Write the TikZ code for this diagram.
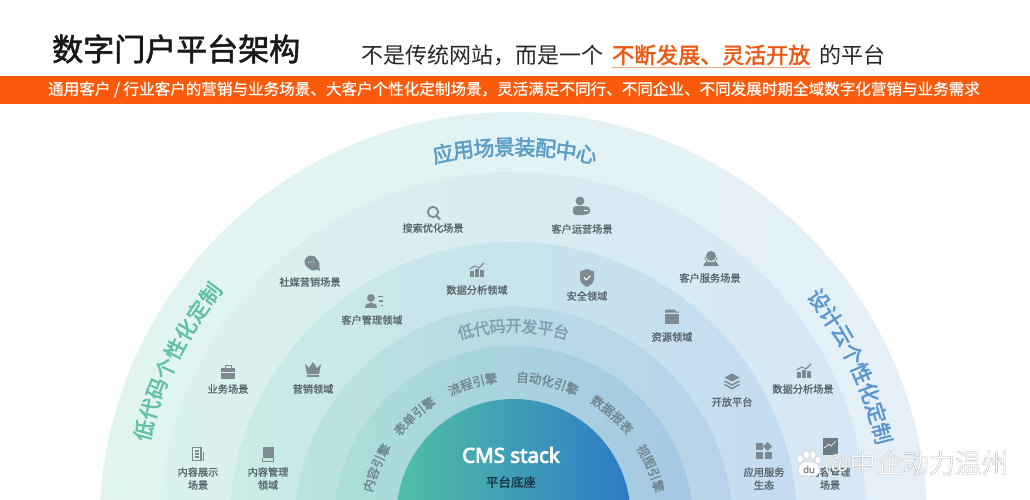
\documentclass[tikz,border=0pt]{standalone}
\usepackage{fontspec}
\usetikzlibrary{shadings}
\setmainfont{Noto Sans CJK SC}
\newfontfamily\latb{Noto Sans}
\definecolor{iconc}{HTML}{7E8A90}
\definecolor{labc}{HTML}{56636A}
\definecolor{orgbar}{HTML}{FA5A0C}
\definecolor{orgtxt}{HTML}{F0560F}
\definecolor{headblue}{HTML}{5A9EC6}
\definecolor{headgreen}{HTML}{5FC0A3}
\definecolor{headcloud}{HTML}{5C96CD}
\definecolor{platc}{HTML}{7FA0AE}
\definecolor{enginec}{HTML}{6F858E}
\newcommand\arctxt[6]{% radius, centre angle, step, style, n, chars
  \pgfmathsetmacro\arcstart{#2+#3*(#5-1)/2}
  \foreach \ch [count=\ci] in {#6}{
    \pgfmathsetmacro\ang{\arcstart-(\ci-1)*#3}
    \pgfmathsetmacro\px{513.5+#1*cos(\ang)}
    \pgfmathsetmacro\py{526-#1*sin(\ang)}
    \pgfmathsetmacro\rt{\ang-90}
    \node[#4,rotate=\rt] at (\px,\py) {\ch};
  }
}
\tikzset{
  heavy/.style={execute at begin node={\special{pdf:code 2 Tr #1 w}},execute at end node={\special{pdf:code 0 Tr 0 w}}},
  lab/.style={text=labc,font=\fontsize{10.2}{13}\selectfont,inner sep=0pt,align=center,heavy=0.12},
  ic/.style={fill=iconc,draw=none},
  icl/.style={draw=iconc,fill=none},
  engine/.style={text=enginec,font=\fontsize{12.5}{14}\selectfont,inner sep=0pt,heavy=0.15},
  plat/.style={text=platc,font=\fontsize{16}{18}\selectfont,inner sep=0pt,heavy=0.35},
  big/.style={font=\fontsize{21}{23}\selectfont,inner sep=0pt,heavy=0.5},
}
\begin{document}
\begin{tikzpicture}[x=1pt,y=-1pt]
\useasboundingbox (0,0) rectangle (1030,500);
\fill[white] (0,0) rectangle (1030,500);
\begin{scope}
\clip (0,0) rectangle (1030,500);
\shade[left color={rgb,255:red,224;green,245;blue,240},middle color={rgb,255:red,240;green,247;blue,250},right color={rgb,255:red,229;green,239;blue,248}] (513.5,526) circle (414);
\shade[left color={rgb,255:red,218;green,242;blue,238},middle color={rgb,255:red,224;green,240;blue,245},right color={rgb,255:red,215;green,231;blue,245}] (513.5,526) circle (354);
\shade[left color={rgb,255:red,202;green,235;blue,230},middle color={rgb,255:red,207;green,232;blue,240},right color={rgb,255:red,197;green,220;blue,240}] (513.5,526) circle (284);
\shade[left color={rgb,255:red,186;green,228;blue,222},middle color={rgb,255:red,191;green,225;blue,234},right color={rgb,255:red,183;green,210;blue,234}] (513.5,526) circle (219);
\shade[left color={rgb,255:red,172;green,222;blue,214},middle color={rgb,255:red,175;green,215;blue,229},right color={rgb,255:red,165;green,200;blue,229}] (513.5,526) circle (180);
\shade[left color={rgb,255:red,80;green,192;blue,165},right color={rgb,255:red,46;green,122;blue,198}] (513.5,516) circle (117);
\end{scope}
% header
\node[anchor=west,inner sep=0pt,font=\fontsize{31}{34}\selectfont,text=black!90,heavy=0.6] (title) at (52,49) {数字门户平台架构};
\node[anchor=west,inner sep=0pt,font=\fontsize{22}{24}\selectfont,text=black!85] (sub1) at (361,55) {不是传统网站，而是一个};
\node[anchor=west,inner sep=0pt,font=\fontsize{22}{24}\selectfont,text=orgtxt,heavy=0.4] (sub2) at (612,55) {不断发展、灵活开放};
\node[anchor=west,inner sep=0pt,font=\fontsize{22}{24}\selectfont,text=black!85] (sub3) at (819,55) {的平台};
\draw[line width=1.4pt,draw=orgtxt!55] (612,67.5) -- (811,67.5);
\fill[orgbar] (0,76) rectangle (1030,104);
\node[inner sep=0pt,text=white,font=\fontsize{15.57}{17}\selectfont,heavy=0.1] (bar) at (514,89.5) {通用客户 / 行业客户的营销与业务场景、大客户个性化定制场景，灵活满足不同行、不同企业、不同发展时期全域数字化营销与业务需求};
% arc headings
\arctxt{379}{89.8}{3.12}{big,text=headblue}{8}{应,用,场,景,装,配,中,心}
\arctxt{382}{154}{3.28}{big,text=headgreen}{8}{低,代,码,个,性,化,定,制}
\arctxt{380}{25.3}{3.2}{big,text=headcloud}{8}{设,计,云,个,性,化,定,制}
\arctxt{200}{90}{4.6}{plat}{7}{低,代,码,开,发,平,台}
\arctxt{150}{157}{4.9}{engine}{4}{内,容,引,擎}
\arctxt{149}{132}{4.9}{engine}{4}{表,单,引,擎}
\arctxt{149}{106}{4.9}{engine}{4}{流,程,引,擎}
\arctxt{149}{76.7}{4.9}{engine}{5}{自,动,化,引,擎}
\arctxt{150}{48.5}{4.9}{engine}{4}{数,据,报,表}
\arctxt{150}{22.7}{4.9}{engine}{4}{视,图,引,擎}
% centre
\node[inner sep=0pt,text=white,font=\latb\fontsize{20.5}{22}\selectfont,heavy=0.8] (cms) at (511,455) {CMS stack};
\node[inner sep=0pt,text={rgb,255:red,24;green,50;blue,70},font=\fontsize{12.5}{14}\selectfont,heavy=0.15] (base) at (511,482) {平台底座};
% labels
\node[lab] at (433,228) {搜索优化场景};
\node[lab] at (582,229) {客户运营场景};
\node[lab] at (310,282) {社媒营销场景};
\node[lab] at (372,320) {客户管理领域};
\node[lab] at (477,290) {数据分析领域};
\node[lab] at (587,296) {安全领域};
\node[lab] at (710,278) {客户服务场景};
\node[lab] at (672,337) {资源领域};
\node[lab] at (228,389) {业务场景};
\node[lab] at (313,389) {营销领域};
\node[lab] at (732,402) {开放平台};
\node[lab] at (803,389) {数据分析场景};
\node[lab] at (198,478.5) {内容展示\\场景};
\node[lab] at (268,478.5) {内容管理\\领域};
\node[lab] at (764,478.5) {应用服务\\生态};
\node[lab] at (830,478.5) {内容管理\\场景};
% icons
\begin{scope}[shift={(433,213)}]
 \draw[icl,line width=1.8pt] (0,-1) circle (5.2);
 \draw[icl,line width=2.2pt] (3.6,2.8) -- (7,6.5);
\end{scope}
\begin{scope}[shift={(581,207)}]
 \fill[ic] (-1,-6) circle (4.4);
 \fill[ic,rounded corners=3pt] (-8,-1) rectangle (5,8);
 \fill[iconc] (5,3.5) circle (4.3);
 \draw[white,line width=.7pt] (2.8,3.5) -- (7,3.5);
\end{scope}
\begin{scope}[shift={(312,263)}]
 \fill[ic] (1.5,1.5) circle (6);
 \fill[ic] (4,6) -- (8,8) -- (7,2) -- cycle;
 \fill[ic] (-1,-1) circle (6.5);
 \foreach \d in {-3.5,-1,1.5}\fill[white] (\d,-1) circle (.7);
\end{scope}
\begin{scope}[shift={(374,302)}]
 \fill[ic] (-3,-4) circle (3.9);
 \fill[ic] (-9,6) .. controls (-9,-1) and (3,-1) .. (3,6) -- cycle;
 \draw[iconc,line width=1.4pt] (3.5,-5.5) -- (8.5,-5.5);
 \draw[iconc,line width=1.4pt] (5,-1) -- (8.5,-1);
 \draw[iconc,line width=1.4pt] (6.5,3.5) -- (8.5,3.5);
\end{scope}
\begin{scope}[shift={(477,270)}]
 \fill[ic] (-7,1) rectangle (-3.5,6.5); \fill[ic] (-2,-1) rectangle (1.5,6.5); \fill[ic] (3,0) rectangle (7,6.5);
 \draw[iconc,line width=1.1pt] (-7.5,-1) -- (-2,-4) -- (2,-2) -- (7,-7);
\end{scope}
\begin{scope}[shift={(804,371)}]
 \fill[ic] (-7,1) rectangle (-3.5,6.5); \fill[ic] (-2,-1) rectangle (1.5,6.5); \fill[ic] (3,0) rectangle (7,6.5);
 \draw[iconc,line width=1.1pt] (-7.5,-1) -- (-2,-4) -- (2,-2) -- (7,-7);
\end{scope}
\begin{scope}[shift={(587,278)}]
 \fill[ic] (0,-9) -- (7,-6.5) -- (7,0) .. controls (7,5) and (3,7.5) .. (0,9) .. controls (-3,7.5) and (-7,5) .. (-7,0) -- (-7,-6.5) -- cycle;
 \draw[white,line width=1.1pt] (-3,-.5) -- (-.7,1.8) -- (3.2,-2.2);
\end{scope}
\begin{scope}[shift={(711,258)}]
 \draw[icl,line width=.8pt] (-6,-1) arc[start angle=180,end angle=0,radius=6];
 \fill[ic] (0,-2) circle (5);
 \fill[ic] (-8,8) -- (-5.5,4) -- (5.5,4) -- (8,8) -- cycle;
\end{scope}
\begin{scope}[shift={(672,317)}]
 \fill[ic] (-7,-7.5) -- (2,-7.5) -- (4,-5.5) -- (7,-5.5) -- (7,-4.5) -- (-7,-4.5) -- cycle;
 \fill[ic] (-7,-3.5) rectangle (7,6.5);
\end{scope}
\begin{scope}[shift={(228,372)}]
 \fill[ic] (-7,-4) rectangle (7,7);
 \draw[icl,line width=1pt] (-3,-4) -- (-3,-7) -- (3,-7) -- (3,-4);
 \draw[white!85!iconc,line width=.6pt] (-7,0) -- (7,0);
\end{scope}
\begin{scope}[shift={(313,369)}]
 \fill[ic] (-8,-5) -- (-4,-1) -- (0,-7) -- (4,-1) -- (8,-5) -- (6,5) -- (-6,5) -- cycle;
 \fill[ic] (-6,6) rectangle (6,8);
\end{scope}
\begin{scope}[shift={(198,454)}]
 \draw[icl,line width=1.4pt] (-5.5,-6.5) rectangle (3,6.5);
 \draw[iconc,line width=1.3pt] (-3,-3) -- (.5,-3) (-3,0) -- (.5,0) (-3,3) -- (.5,3);
 \draw[iconc,line width=.9pt] (5.5,-2) -- (5.5,6.5);
\end{scope}
\begin{scope}[shift={(268,454)}]
 \fill[ic] (-5.5,-7) rectangle (5.5,4);
 \draw[iconc,line width=.8pt] (-5.5,4) -- (-5.5,7) -- (5.5,7) -- (5.5,4);
\end{scope}
\begin{scope}[shift={(732,381)}]
 \fill[ic] (-7.5,-3.5) -- (0,-7.5) -- (7.5,-3.5) -- (0,.5) -- cycle;
 \draw[iconc,line width=1.5pt] (-7.5,0) -- (0,4) -- (7.5,0);
 \draw[iconc,line width=1.5pt] (-7.5,3.5) -- (0,7.5) -- (7.5,3.5);
\end{scope}
\begin{scope}[shift={(764,451)}]
 \fill[ic] (-8,-8) rectangle (-1,-1);
 \fill[ic] (3.5,-9) -- (8,-4.5) -- (3.5,0) -- (-1,-4.5) -- cycle;
 \fill[ic] (-8,1) rectangle (-1,8);
 \fill[ic] (1,1) rectangle (8,8);
\end{scope}
\begin{scope}[shift={(830,447)}]
 \fill[iconc!90!black] (-7.5,-9.5) rectangle (7.5,8);
 \draw[white,line width=.6pt] (-6,1) -- (-1,-3) -- (1,-1) -- (6,-6);
\end{scope}
% watermark
\begin{scope}[shift={(808,464)}]
 \foreach \tx/\ty/\rx/\ry in {-8/-5/3.2/4,-1.5/-9/3/4.2,5/-9/3/4.2,10/-4/3/3.6}
   \draw[gray!40,fill=white,line width=.4pt] (\tx,\ty) ellipse (\rx pt and \ry pt);
 \draw[gray!40,fill=white,line width=.4pt] (-10,6) .. controls (-10,0) and (-4,-3) .. (1,-3) .. controls (6,-3) and (12,1) .. (12,6) .. controls (12,11) and (8,12) .. (1,12) .. controls (-6,12) and (-10,11) .. (-10,6) -- cycle;
 \node[inner sep=0pt,text=gray!90,font=\latb\fontsize{9.5}{10}\selectfont,heavy=0.3] (du) at (1,5.5) {du};
\end{scope}
\node[anchor=west,inner sep=0pt,text=white,font=\fontsize{26.5}{28}\selectfont] (wm) at (824,464) {\special{pdf:code 2 Tr 0.35 w 0.72 0.72 0.72 RG}@中企动力温州\special{pdf:code 0 Tr 0 w 0 G}};
\end{tikzpicture}
\end{document}
